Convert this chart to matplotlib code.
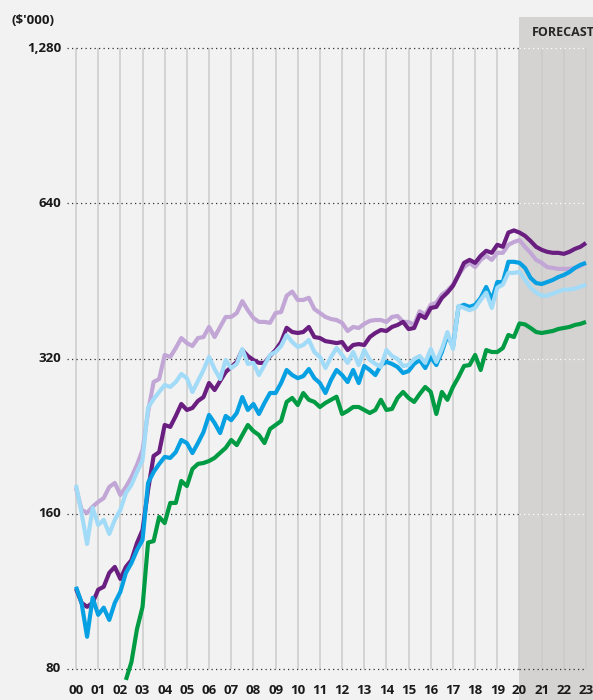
import numpy as np
import matplotlib
matplotlib.use("Agg")
import matplotlib.pyplot as plt
from matplotlib.transforms import blended_transform_factory

# ---------------- data (quarterly, 2000Q1 .. 2023Q1, $'000) ----------------
year_labels = ["00", "01", "02", "03", "04", "05", "06", "07", "08", "09", "10", "11",
               "12", "13", "14", "15", "16", "17", "18", "19", "20", "21", "22", "23"]
ytick_values = [80, 160, 320, 640, 1280]
ytick_labels = ["80", "160", "320", "640", "1,280"]
forecast_start = 2020
forecast_label = "FORECAST"
unit_label = "($'000)"

dark_purple = [114.5, 107.5, 105.6, 107.5, 114.0, 115.5, 122.9, 126.2,
               119.6, 126.2, 130.1, 140.4, 148.8, 177.9, 207.1, 210.7,
               237.8, 235.8, 247.6, 261.2, 254.3, 256.6, 264.8, 269.4,
               286.8, 278.0, 289.4, 301.2, 308.1, 315.2, 332.3, 323.6,
               317.9, 313.8, 313.8, 323.6, 332.3, 344.4, 367.0, 360.2,
               358.6, 360.2, 368.4, 352.2, 350.6, 345.8, 344.4, 342.8,
               344.4, 332.3, 339.9, 341.3, 339.9, 352.2, 358.6, 363.4,
               361.8, 368.4, 371.7, 376.8, 365.0, 366.7, 388.8, 383.5,
               401.0, 402.9, 419.4, 429.5, 442.6, 464.6, 490.5, 497.0,
               490.5, 506.1, 517.6, 512.9, 531.7, 526.9, 561.5, 566.9,
               561.5, 553.3, 540.7, 526.9, 519.8, 515.2, 512.9, 512.9,
               510.6, 515.2, 522.1, 526.9, 536.0]

light_purple = [179.5, 162.8, 160.6, 165.1, 168.7, 171.6, 180.3, 183.6,
                174.0, 180.3, 188.4, 199.0, 212.7, 252.1, 288.1, 292.0,
                325.1, 322.2, 335.3, 350.6, 342.8, 338.4, 350.6, 352.2,
                368.4, 352.2, 368.4, 385.2, 385.2, 392.1, 413.4, 397.0,
                383.5, 376.8, 376.8, 375.2, 392.1, 393.8, 423.4, 431.4,
                415.6, 415.6, 419.6, 399.0, 392.1, 385.2, 381.7, 380.0,
                375.2, 361.8, 368.4, 366.7, 373.5, 378.5, 380.0, 380.0,
                376.8, 385.2, 386.9, 376.8, 376.8, 371.7, 395.2, 388.8,
                406.7, 410.6, 425.6, 433.3, 445.0, 464.6, 481.3, 490.5,
                481.3, 497.0, 506.1, 497.0, 512.9, 512.9, 531.7, 538.3,
                542.8, 526.9, 512.9, 497.0, 490.5, 481.3, 479.5, 477.4,
                477.4, 477.4, 479.5, 483.9, 490.5]

light_blue = [182.0, 160.6, 139.8, 164.3, 152.2, 155.7, 146.2, 155.7,
              162.8, 175.5, 182.0, 192.8, 203.4, 257.0, 267.0, 275.6,
              284.3, 281.8, 288.1, 298.6, 293.1, 275.6, 289.4, 304.0,
              322.2, 305.3, 292.0, 317.9, 306.7, 312.4, 333.9, 312.4,
              313.8, 297.2, 310.8, 325.1, 329.4, 338.4, 355.4, 344.4,
              336.9, 339.9, 347.6, 329.4, 322.2, 306.7, 322.2, 335.3,
              325.1, 313.8, 329.4, 310.8, 332.3, 317.9, 312.4, 308.1,
              332.3, 323.6, 319.3, 309.5, 310.8, 319.3, 323.6, 313.8,
              333.9, 315.2, 333.9, 360.0, 333.9, 404.8, 401.0, 397.0,
              401.0, 415.6, 429.5, 401.0, 439.0, 445.0, 469.0, 469.0,
              471.1, 454.4, 439.0, 429.5, 423.7, 423.7, 427.5, 431.4,
              435.3, 435.3, 437.1, 441.0, 445.0]

medium_blue = [115.5, 107.5, 92.4, 109.9, 101.9, 105.2, 99.6, 107.5,
               112.9, 122.9, 128.4, 136.1, 142.3, 183.6, 192.8, 199.8,
               206.2, 205.3, 210.7, 222.4, 219.4, 209.8, 219.4, 230.4,
               248.7, 239.9, 229.4, 247.6, 243.0, 250.9, 269.4, 254.3,
               261.2, 249.8, 262.4, 274.3, 274.3, 286.8, 304.0, 297.2,
               293.1, 295.8, 305.3, 293.1, 286.8, 274.3, 290.7, 304.0,
               297.2, 288.1, 304.0, 286.8, 309.5, 304.0, 297.2, 310.8,
               315.2, 312.4, 308.1, 299.9, 302.6, 312.4, 317.9, 306.7,
               322.2, 310.8, 329.4, 355.4, 336.9, 402.9, 406.7, 402.9,
               406.7, 419.4, 440.4, 415.6, 450.2, 450.2, 492.8, 492.8,
               490.5, 479.5, 458.5, 448.2, 446.2, 450.2, 454.4, 460.4,
               464.6, 470.7, 479.5, 486.1, 490.5]

green = [np.nan] * 9 + [
         76.2, 82.5, 95.6,
         105.5, 140.7, 141.6, 157.7, 153.5, 167.9, 167.9, 185.2,
         181.1, 195.4, 199.9, 200.7, 202.5, 205.3, 210.0, 214.7,
         222.4, 217.4, 227.4, 237.8, 231.4, 227.4, 219.4, 233.6,
         237.8, 242.1, 263.6, 268.3, 260.0, 274.3, 266.1, 263.6,
         257.7, 262.4, 266.1, 269.8, 249.8, 253.2, 257.7, 257.7,
         254.3, 250.9, 254.3, 266.1, 254.3, 255.5, 268.3, 275.6,
         268.3, 263.6, 273.1, 281.8, 275.6, 249.8, 275.6, 266.1,
         281.8, 294.5, 309.5, 310.8, 325.1, 304.0, 332.3, 329.4,
         329.4, 335.3, 355.4, 352.2, 374.2, 372.6, 366.7, 360.2,
         358.6, 360.2, 361.8, 365.0, 366.7, 368.4, 371.7, 373.5,
         376.8]

quarters = 2000 + np.arange(len(dark_purple)) / 4.0

# ---------------- styling ----------------
BG = "#f2f2f2"
SHADE = "#d4d3d2"
GRID = "#cbcbcb"
TEXT = "#1a1a1a"
C_DP = "#6a1e80"
C_LP = "#c1a6d6"
C_LB = "#a2dbf7"
C_MB = "#07a0e2"
C_GR = "#009b43"

FONT = ["Open Sans", "DejaVu Sans"]

W, H = 593, 700
fig = plt.figure(figsize=(W / 100, H / 100), dpi=100, facecolor=BG)
ax = fig.add_axes([0, 0, 1, 1])
ax.set_facecolor(BG)
ax.set_yscale("log", base=2)

px_per_year = 510 / 23.0
x0_px = 76.0
ax.set_xlim(2000 - x0_px / px_per_year, 2000 + (W - x0_px) / px_per_year)
oct_px = 155.25
y80_px = 669.0
ax.set_ylim(80 * 2 ** (-(H - y80_px) / oct_px), 80 * 2 ** (y80_px / oct_px))
for s in ax.spines.values():
    s.set_visible(False)
ax.set_xticks([])
ax.set_yticks([])
ax.minorticks_off()

x_right = 2000 + (W - x0_px) / px_per_year + 0.1
ymin, ymax = ax.get_ylim()
shade_top = 80 * 2 ** ((y80_px - 17) / oct_px)
ax.fill_between([forecast_start, x_right], ymin, shade_top, color=SHADE, lw=0, zorder=0.5)

years_num = 2000 + np.arange(len(year_labels))
ax.vlines(years_num, ytick_values[0], ytick_values[-1], colors=GRID, lw=1.1, zorder=1)

dot_start = 2000 - 9 / px_per_year
ls_dot = (0, (1.0, 2.6))
for v in ytick_values:
    ax.hlines(v, dot_start, forecast_start, colors="#333333", linestyles=[ls_dot], lw=0.9, zorder=1.5)
    col = "#333333" if v == ytick_values[0] else "#ffffff"
    ax.hlines(v, forecast_start, 2023, colors=col, linestyles=[ls_dot], lw=0.9, zorder=1.5)

lab_x = 2000 - 15 / px_per_year
for v, lab in zip(ytick_values, ytick_labels):
    ax.text(lab_x, v, lab, ha="right", va="center", fontsize=9.5, fontweight="bold",
            color=TEXT, family=FONT)

tr = blended_transform_factory(ax.transData, ax.transAxes)
for yr, lab in zip(years_num, year_labels):
    ax.text(yr, 1 - 690 / H, lab, ha="center", va="center", fontsize=9.5, fontweight="bold",
            color=TEXT, family=FONT, transform=tr)

fig.text(12 / W, 1 - 20 / H, unit_label, ha="left", va="center", fontsize=9.5,
         fontweight="bold", color=TEXT, family=FONT)
fig.text(532 / W, 1 - 33 / H, forecast_label, ha="left", va="center", fontsize=9,
         fontweight="bold", color="#262626", family=FONT)

lw = 3.0
kw = dict(lw=lw, solid_joinstyle="round", solid_capstyle="butt")
ax.plot(quarters, light_purple, color=C_LP, zorder=3, **kw)
ax.plot(quarters, dark_purple, color=C_DP, zorder=4, **kw)
ax.plot(quarters, medium_blue, color=C_MB, zorder=5, **kw)
ax.plot(quarters, light_blue, color=C_LB, zorder=6, **kw)
ax.plot(quarters, green, color=C_GR, zorder=7, **kw)

fig.savefig("out.png", dpi=100, facecolor=BG)
